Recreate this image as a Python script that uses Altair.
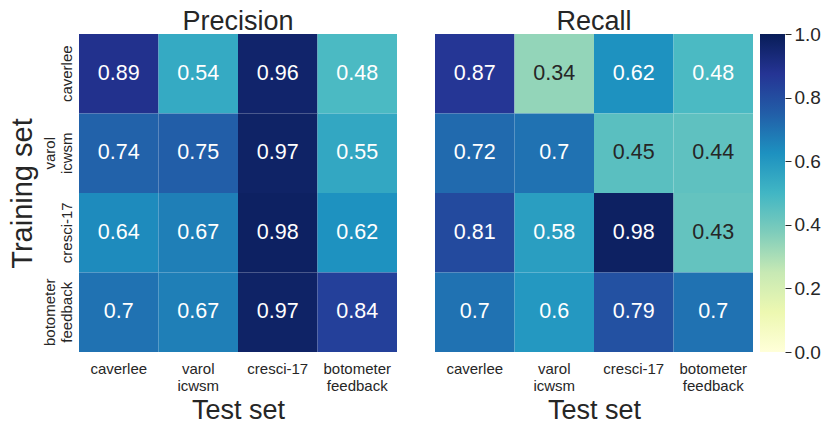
import altair as alt
import pandas as pd

categories = ["caverlee", "varol icwsm", "cresci-17", "botometer feedback"]

precision = [
    [0.89, 0.54, 0.96, 0.48],
    [0.74, 0.75, 0.97, 0.55],
    [0.64, 0.67, 0.98, 0.62],
    [0.70, 0.67, 0.97, 0.84],
]

recall = [
    [0.87, 0.34, 0.62, 0.48],
    [0.72, 0.70, 0.45, 0.44],
    [0.81, 0.58, 0.98, 0.43],
    [0.70, 0.60, 0.79, 0.70],
]

colorbar_ticks = [0.0, 0.2, 0.4, 0.6, 0.8, 1.0]

# YlGnBu colormap anchor colours (styling)
ylgnbu = ["#ffffd9", "#edf8b1", "#c7e9b4", "#7fcdbb", "#41b6c4",
          "#1d91c0", "#225ea8", "#253494", "#081d58"]
ylgnbu_pos = [i / 8 for i in range(9)]

FONT = "Liberation Sans"
DARK = "#262626"


def to_df(mat):
    rows = []
    for i, train in enumerate(categories):
        for j, test in enumerate(categories):
            rows.append({"train": train, "test": test, "value": mat[i][j]})
    return pd.DataFrame(rows)


color_scale = alt.Scale(domain=ylgnbu_pos, range=ylgnbu, interpolate="rgb")


def title_params(text):
    return alt.TitleParams(text, fontSize=27, font=FONT, color=DARK,
                           fontWeight="normal", offset=-2)


def panel(mat, title, show_y):
    df = to_df(mat)
    xaxis = alt.Axis(
        title="Test set", labelAngle=0, labelBaseline="top", labelPadding=9,
        labelExpr="split(datum.label, ' ')", labelLineHeight=17, titlePadding=4,
        titleFontSize=27,
    )
    if show_y:
        y = alt.Y("train:N", sort=categories, axis=alt.Axis(
            title="Training set", labelAngle=-90, labelAlign="center",
            labelBaseline="bottom",
            labelPadding={"condition": {"test": "indexof(datum.label, ' ') >= 0", "value": 22}, "value": 5},
            labelExpr="split(datum.label, ' ')", labelLineHeight=17,
            titlePadding=5, titleFontSize=29,
        ))
    else:
        # no labels: the axis only reserves the gap between the two heatmaps
        y = alt.Y("train:N", sort=categories, axis=alt.Axis(
            labels=False, title=None, minExtent=31, maxExtent=31,
        ))
    base = alt.Chart(df).encode(
        x=alt.X("test:N", sort=categories, axis=xaxis),
        y=y,
    )
    rect = base.mark_rect().encode(
        color=alt.Color("value:Q", scale=color_scale, legend=None)
    )
    text = base.mark_text(fontSize=21.5, font=FONT).encode(
        text=alt.Text("value:Q", format=".2~f"),
        color=alt.condition(alt.datum.value < 0.46, alt.value(DARK), alt.value("white")),
    )
    return (rect + text).properties(width=318, height=318, title=title_params(title))


cbar_df = pd.DataFrame({"lo": [colorbar_ticks[0]], "hi": [colorbar_ticks[-1]]})
gradient = alt.LinearGradient(
    gradient="linear", x1=0, x2=0, y1=1, y2=0,
    stops=[alt.GradientStop(offset=p, color=c) for p, c in zip(ylgnbu_pos, ylgnbu)],
)
cbar = alt.Chart(cbar_df).mark_rect(color=gradient).encode(
    y=alt.Y("lo:Q", scale=alt.Scale(domain=[0, 1], nice=False, zero=False),
            axis=alt.Axis(orient="right", values=colorbar_ticks, format=".1f",
                          ticks=True, tickSize=6, tickColor=DARK, tickWidth=1,
                          labelFontSize=19, labelPadding=3, title=None, grid=False,
                          labelFlush=False, labelBaseline="middle", labelOverlap=False)),
    y2="hi:Q",
    x=alt.value(0),
    x2=alt.value(25),
).properties(width=25, height=318)

chart = alt.hconcat(
    panel(precision, "Precision", True),
    panel(recall, "Recall", False),
    cbar,
    spacing=7,
).properties(
    padding=0
).configure_view(
    stroke=None
).configure_axis(
    domain=False, ticks=False, labelFontSize=15, labelFont=FONT, labelColor=DARK,
    titleFont=FONT, titleColor=DARK, titleFontWeight="normal",
)

chart.save("out.html", embed_options={"renderer": "svg", "actions": False})
